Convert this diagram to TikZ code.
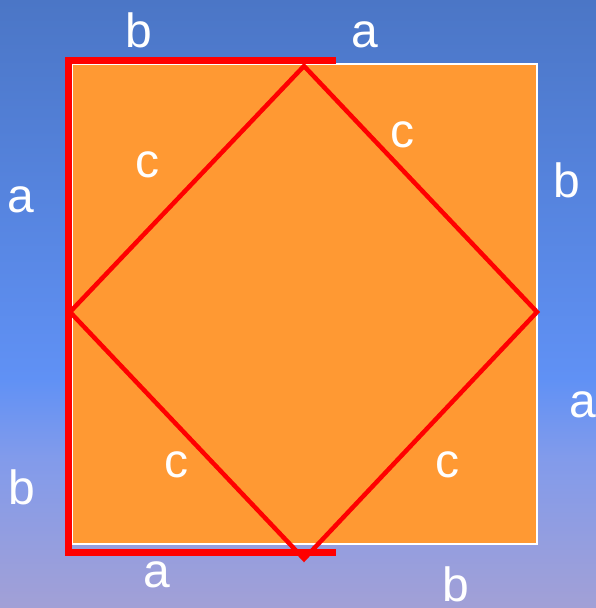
\documentclass[tikz,border=0pt]{standalone}
\usepackage{fontspec}
\setmainfont{Liberation Sans}
\definecolor{bgtop}{RGB}{75,118,198}
\definecolor{bgmid}{RGB}{96,145,245}
\definecolor{bglow}{RGB}{130,155,235}
\definecolor{bgbot}{RGB}{162,160,214}
\definecolor{sqorange}{RGB}{255,153,51}
\pgfdeclareverticalshading{bgshade}{100bp}{color(0bp)=(bgbot); color(25bp)=(bgbot); color(37.3bp)=(bglow); color(43.9bp)=(bgmid); color(75bp)=(bgtop); color(100bp)=(bgtop)}

\begin{document}
\begin{tikzpicture}
            [x=1pt, y=-1pt, line join=miter,
             lbl/.style={text=white, inner sep=0pt, font=\fontsize{48}{48}\selectfont}]
            \useasboundingbox (0,0) rectangle (596,608);
            \fill[shading=bgshade] (0,0) rectangle (596,608);

            \node[shape=rectangle,draw=white,fill=sqorange,line width=2pt,inner sep=0pt,minimum width=465pt,minimum height=480pt] (sq) at (304.5,304) {};

            \coordinate (brtop) at (336,60.5);
            \coordinate (brtl) at (68,60.5);
            \coordinate (brbl) at (68,552);
            \coordinate (brbot) at (336,552);
            \draw[red, line width=7pt] (brtop) -- (brtl) -- (brbl) -- (brbot);

            \coordinate (dtop) at (304,66);
            \coordinate (dright) at (537,312);
            \coordinate (dbot) at (304,559);
            \coordinate (dleft) at (70,312);
            \draw[red, line width=4.5pt] (dtop) -- (dright) -- (dbot) -- (dleft) -- cycle;

            \node[lbl] (btop) at (139,30) {b};
            \node[lbl] (atop) at (365,35) {a};
            \node[lbl] (aleft) at (21,200) {a};
            \node[lbl] (bleft) at (22,487) {b};
            \node[lbl] (bright) at (567,180) {b};
            \node[lbl] (aright) at (583,405) {a};
            \node[lbl] (abot) at (157,575) {a};
            \node[lbl] (bbot) at (456,584) {b};
            \node[lbl] (cul) at (147,165) {c};
            \node[lbl] (cur) at (402,135) {c};
            \node[lbl] (cll) at (176,465) {c};
            \node[lbl] (clr) at (447,465) {c};
        \end{tikzpicture}
\end{document}
